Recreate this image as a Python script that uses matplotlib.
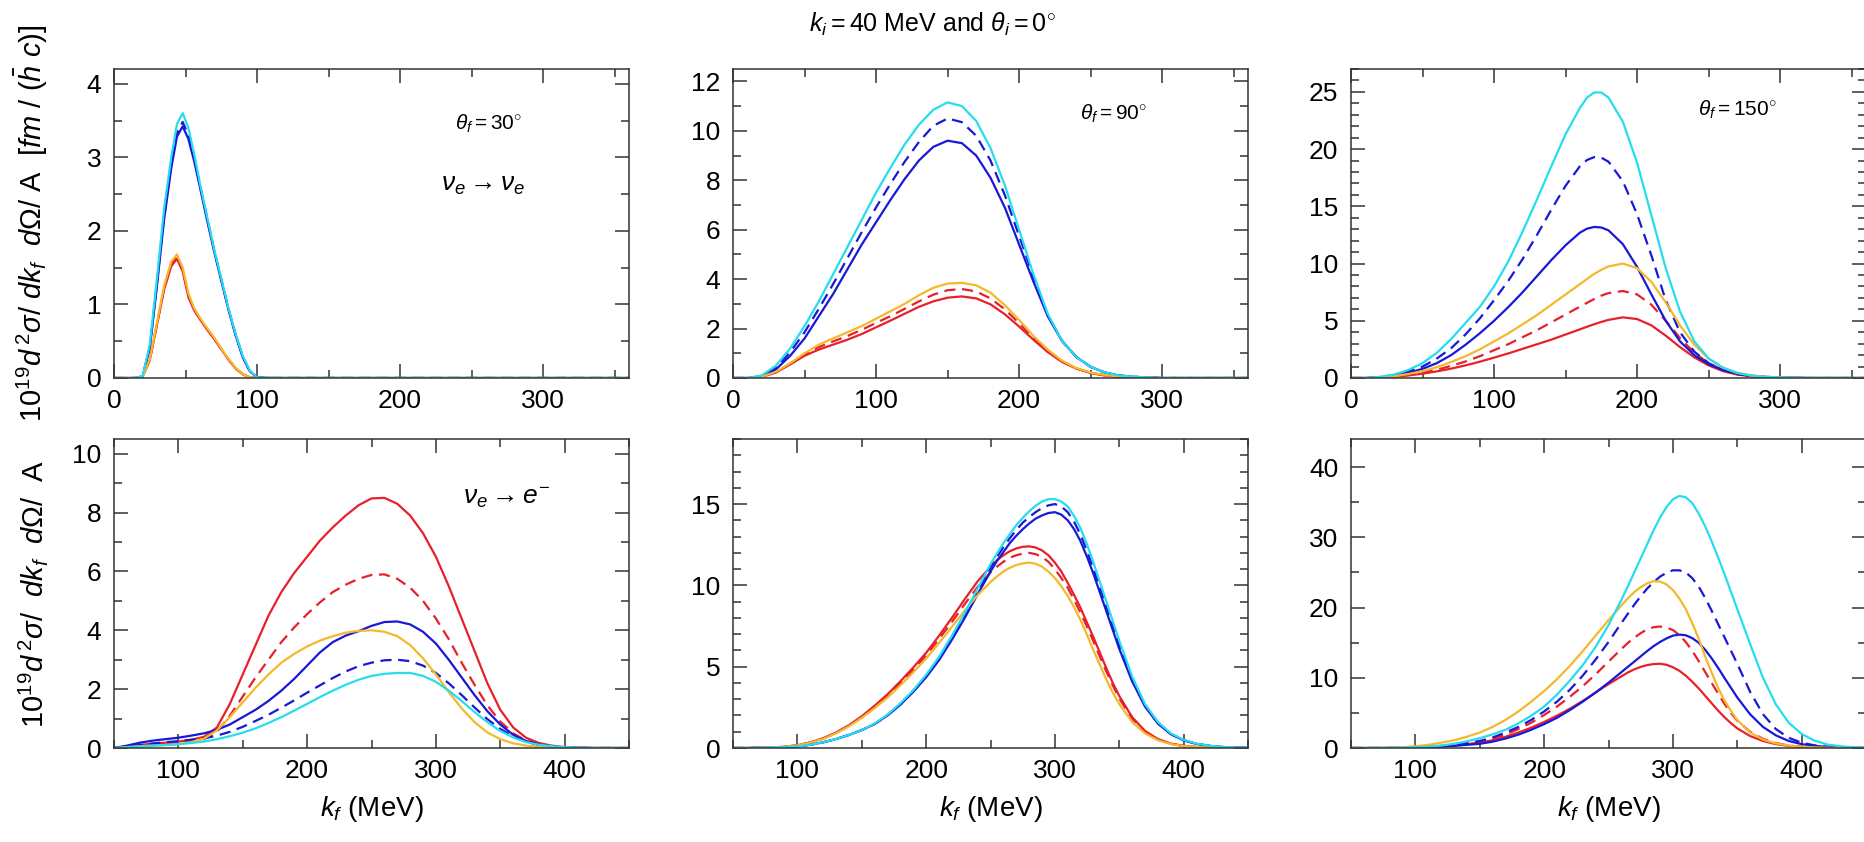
import matplotlib
matplotlib.use("Agg")
import matplotlib.pyplot as plt
from matplotlib.ticker import MultipleLocator

plt.rcParams['font.family'] = ['Liberation Sans', 'DejaVu Sans']
plt.rcParams['mathtext.fontset'] = 'custom'
plt.rcParams['mathtext.rm'] = 'Liberation Sans'
plt.rcParams['mathtext.it'] = 'Liberation Sans:italic'
plt.rcParams['mathtext.bf'] = 'Liberation Sans:bold'

CYAN = '#25DDEE'
BLUE = '#1818D8'
GOLD = '#F5B82A'
RED = '#E8202A'

# ---- top row: nu_e -> nu_e ----
tl_x = [0, 10, 15, 20, 25, 30, 35, 40, 44, 48, 52, 56, 60, 65, 70, 75, 80, 85, 90, 95, 100, 110, 360]
tl_cyan = [0, 0, 0, 0.03, 0.45, 1.35, 2.3, 3.0, 3.45, 3.6, 3.4, 3.05, 2.65, 2.2, 1.75, 1.35, 0.95, 0.6, 0.3, 0.1, 0.01, 0, 0]
tl_blue = [0, 0, 0, 0.02, 0.4, 1.25, 2.15, 2.85, 3.28, 3.42, 3.25, 2.95, 2.6, 2.15, 1.72, 1.32, 0.93, 0.58, 0.28, 0.09, 0.01, 0, 0]
tl_blue_d = [0, 0, 0, 0.02, 0.42, 1.28, 2.2, 2.9, 3.33, 3.48, 3.3, 3.0, 2.63, 2.18, 1.74, 1.34, 0.94, 0.59, 0.29, 0.09, 0.01, 0, 0]
tl_gold = [0, 0, 0, 0.02, 0.25, 0.75, 1.25, 1.58, 1.68, 1.5, 1.15, 0.95, 0.82, 0.68, 0.55, 0.4, 0.26, 0.14, 0.05, 0.01, 0, 0, 0]
tl_red = [0, 0, 0, 0.02, 0.24, 0.72, 1.2, 1.52, 1.62, 1.45, 1.1, 0.92, 0.8, 0.66, 0.53, 0.39, 0.25, 0.13, 0.05, 0.01, 0, 0, 0]
tl_red_d = [0, 0, 0, 0.02, 0.245, 0.73, 1.22, 1.55, 1.65, 1.47, 1.12, 0.93, 0.81, 0.67, 0.54, 0.395, 0.255, 0.135, 0.05, 0.01, 0, 0, 0]

tm_x = [0, 10, 20, 30, 40, 50, 60, 70, 80, 90, 100, 110, 120, 130, 140, 150, 160, 170, 180, 190, 200,
        210, 220, 230, 240, 250, 260, 270, 280, 290, 300, 360]
tm_cyan = [0, 0, 0.1, 0.5, 1.2, 2.1, 3.1, 4.2, 5.3, 6.4, 7.5, 8.5, 9.45, 10.25, 10.85, 11.15, 11.0, 10.4, 9.3, 7.8, 6.0,
           4.2, 2.6, 1.5, 0.85, 0.45, 0.22, 0.1, 0.05, 0.02, 0, 0]
tm_blue = [0, 0, 0.05, 0.35, 0.9, 1.6, 2.5, 3.4, 4.4, 5.4, 6.3, 7.2, 8.05, 8.8, 9.35, 9.6, 9.5, 9.0, 8.1, 6.9, 5.4,
           3.9, 2.5, 1.5, 0.85, 0.45, 0.22, 0.1, 0.05, 0.02, 0, 0]
tm_blue_d = [0, 0, 0.07, 0.4, 1.05, 1.85, 2.8, 3.8, 4.85, 5.9, 6.9, 7.85, 8.75, 9.55, 10.2, 10.5, 10.35, 9.8, 8.8, 7.4, 5.75,
             4.1, 2.55, 1.5, 0.85, 0.45, 0.22, 0.1, 0.05, 0.02, 0, 0]
tm_gold = [0, 0, 0.05, 0.25, 0.6, 1.0, 1.35, 1.6, 1.85, 2.1, 2.4, 2.7, 3.0, 3.35, 3.65, 3.82, 3.85, 3.75, 3.45, 2.95, 2.35,
           1.7, 1.15, 0.7, 0.4, 0.22, 0.12, 0.06, 0.03, 0.01, 0, 0]
tm_red = [0, 0, 0.04, 0.22, 0.55, 0.9, 1.15, 1.35, 1.55, 1.78, 2.05, 2.32, 2.6, 2.88, 3.1, 3.25, 3.3, 3.22, 2.98, 2.58, 2.08,
          1.55, 1.05, 0.65, 0.38, 0.2, 0.1, 0.05, 0.02, 0.01, 0, 0]
tm_red_d = [0, 0, 0.045, 0.24, 0.58, 0.95, 1.25, 1.48, 1.7, 1.95, 2.23, 2.5, 2.8, 3.1, 3.37, 3.55, 3.6, 3.5, 3.22, 2.78, 2.22,
            1.63, 1.1, 0.68, 0.39, 0.21, 0.11, 0.05, 0.02, 0.01, 0, 0]

tr_x = [0, 10, 20, 30, 40, 50, 60, 70, 80, 90, 100, 110, 120, 130, 140, 150, 160, 165, 170, 175, 180, 190, 200,
        210, 220, 230, 240, 250, 260, 270, 280, 290, 300, 310, 320, 360]
tr_cyan = [0, 0, 0.1, 0.3, 0.7, 1.3, 2.2, 3.4, 4.8, 6.2, 8.0, 10.2, 12.8, 15.6, 18.5, 21.3, 23.6, 24.5, 24.95, 24.95, 24.5, 22.4, 18.8,
           14.2, 9.6, 5.8, 3.2, 1.7, 0.9, 0.45, 0.2, 0.1, 0.05, 0.02, 0, 0]
tr_blue_d = [0, 0, 0.08, 0.25, 0.55, 1.0, 1.7, 2.6, 3.8, 5.2, 6.8, 8.5, 10.4, 12.5, 14.7, 16.8, 18.5, 19.05, 19.3, 19.25, 18.9, 17.2, 14.3,
             10.7, 6.8, 4.0, 2.3, 1.3, 0.7, 0.35, 0.17, 0.08, 0.04, 0.02, 0, 0]
tr_blue = [0, 0, 0.05, 0.2, 0.45, 0.8, 1.3, 2.0, 2.9, 3.9, 5.0, 6.2, 7.5, 8.9, 10.3, 11.6, 12.7, 13.05, 13.2, 13.15, 12.9, 11.7, 9.7,
           7.3, 5.0, 3.2, 2.0, 1.2, 0.7, 0.38, 0.2, 0.1, 0.05, 0.02, 0, 0]
tr_gold = [0, 0, 0.05, 0.15, 0.35, 0.6, 0.95, 1.4, 1.9, 2.5, 3.2, 3.9, 4.7, 5.5, 6.4, 7.3, 8.2, 8.65, 9.1, 9.45, 9.75, 10.0, 9.6,
           8.4, 6.6, 4.6, 2.9, 1.7, 0.9, 0.45, 0.22, 0.1, 0.05, 0.02, 0, 0]
tr_red_d = [0, 0, 0.04, 0.12, 0.27, 0.46, 0.72, 1.06, 1.44, 1.9, 2.43, 2.96, 3.57, 4.18, 4.86, 5.55, 6.23, 6.57, 6.9, 7.2, 7.42, 7.6, 7.3,
            6.4, 5.0, 3.5, 2.2, 1.3, 0.68, 0.34, 0.17, 0.08, 0.04, 0.02, 0, 0]
tr_red = [0, 0, 0.03, 0.1, 0.22, 0.38, 0.58, 0.82, 1.1, 1.42, 1.78, 2.15, 2.55, 2.95, 3.35, 3.8, 4.25, 4.48, 4.7, 4.9, 5.08, 5.3, 5.15,
          4.6, 3.7, 2.7, 1.8, 1.1, 0.6, 0.3, 0.15, 0.07, 0.03, 0.01, 0, 0]

# ---- bottom row: nu_e -> e- ----
bot_x = [50, 60, 70, 80, 90, 100, 110, 120, 130, 140, 150, 160, 170, 180, 190, 200, 210, 220, 230, 240, 250,
         260, 270, 280, 290, 300, 310, 320, 330, 340, 350, 360, 370, 380, 390, 400, 410, 420, 430, 440, 450]
bl_red = [0, 0.05, 0.1, 0.15, 0.18, 0.22, 0.28, 0.38, 0.7, 1.5, 2.5, 3.5, 4.5, 5.3, 5.95, 6.5, 7.05, 7.5, 7.9, 8.25, 8.48,
          8.5, 8.3, 7.9, 7.3, 6.5, 5.5, 4.4, 3.3, 2.2, 1.3, 0.7, 0.35, 0.17, 0.08, 0.03, 0.01, 0, 0, 0, 0]
bl_red_d = [0, 0.04, 0.08, 0.12, 0.15, 0.18, 0.23, 0.3, 0.55, 1.1, 1.75, 2.4, 3.0, 3.6, 4.1, 4.55, 4.95, 5.3, 5.55, 5.75, 5.88,
            5.9, 5.75, 5.45, 5.0, 4.4, 3.7, 2.9, 2.15, 1.45, 0.9, 0.5, 0.25, 0.12, 0.05, 0.02, 0.01, 0, 0, 0, 0]
bl_blue = [0, 0.08, 0.18, 0.25, 0.3, 0.35, 0.42, 0.5, 0.62, 0.8, 1.05, 1.3, 1.6, 1.95, 2.35, 2.8, 3.25, 3.6, 3.82, 3.97, 4.15,
           4.28, 4.3, 4.2, 3.95, 3.55, 3.0, 2.4, 1.8, 1.25, 0.8, 0.45, 0.24, 0.12, 0.05, 0.02, 0.01, 0, 0, 0, 0]
bl_blue_d = [0, 0.05, 0.1, 0.15, 0.2, 0.23, 0.28, 0.33, 0.42, 0.55, 0.72, 0.92, 1.13, 1.37, 1.62, 1.88, 2.13, 2.38, 2.6, 2.78, 2.9,
             2.98, 3.0, 2.95, 2.8, 2.55, 2.2, 1.8, 1.38, 0.98, 0.65, 0.4, 0.22, 0.1, 0.05, 0.02, 0.01, 0, 0, 0, 0]
bl_cyan = [0, 0.02, 0.05, 0.08, 0.1, 0.13, 0.17, 0.22, 0.3, 0.4, 0.52, 0.67, 0.85, 1.05, 1.27, 1.5, 1.73, 1.95, 2.15, 2.32, 2.45,
           2.52, 2.55, 2.55, 2.45, 2.25, 1.95, 1.6, 1.22, 0.88, 0.58, 0.36, 0.2, 0.11, 0.06, 0.03, 0.01, 0, 0, 0, 0]
bl_gold = [0, 0.03, 0.06, 0.08, 0.1, 0.13, 0.2, 0.32, 0.6, 1.05, 1.55, 2.05, 2.5, 2.9, 3.2, 3.45, 3.65, 3.8, 3.92, 3.98, 4.0,
           3.95, 3.8, 3.5, 3.05, 2.5, 1.9, 1.35, 0.88, 0.53, 0.3, 0.16, 0.08, 0.04, 0.02, 0.01, 0, 0, 0, 0, 0]

# finer steps around the peaks for the 90 and 150 degree panels
fine_x = [50, 60, 70, 80, 90, 100, 110, 120, 130, 140, 150, 160, 170, 180, 190, 200, 210, 220, 230, 240, 250,
          255, 260, 265, 270, 275, 280, 285, 290, 295, 300, 305, 310, 315, 320, 325, 330, 335, 340, 345,
          350, 360, 370, 380, 390, 400, 410, 420, 430, 440, 450]

bm_cyan = [0, 0, 0.01, 0.03, 0.06, 0.1, 0.2, 0.35, 0.55, 0.8, 1.1, 1.5, 2.05, 2.75, 3.55, 4.5, 5.6, 6.9, 8.3, 9.8, 11.3,
           11.95, 12.6, 13.15, 13.7, 14.15, 14.55, 14.9, 15.15, 15.3, 15.3, 15.15, 14.85, 14.25, 13.5, 12.5, 11.4, 10.2, 9.0, 7.8,
           6.6, 4.4, 2.7, 1.6, 0.9, 0.5, 0.27, 0.14, 0.07, 0.03, 0.01]
bm_blue_d = [0, 0, 0.01, 0.03, 0.06, 0.1, 0.2, 0.35, 0.55, 0.8, 1.1, 1.48, 2.02, 2.7, 3.5, 4.42, 5.5, 6.8, 8.2, 9.65, 11.1,
             11.75, 12.35, 12.9, 13.4, 13.85, 14.2, 14.5, 14.75, 14.92, 15.0, 14.85, 14.5, 13.9, 13.1, 12.1, 11.0, 9.85, 8.7, 7.5,
             6.3, 4.2, 2.6, 1.55, 0.87, 0.48, 0.26, 0.13, 0.06, 0.03, 0.01]
bm_blue = [0, 0, 0.01, 0.03, 0.06, 0.1, 0.2, 0.35, 0.55, 0.8, 1.1, 1.47, 2.0, 2.66, 3.45, 4.35, 5.4, 6.65, 8.0, 9.45, 10.85,
           11.5, 12.05, 12.6, 13.05, 13.45, 13.8, 14.1, 14.3, 14.45, 14.5, 14.35, 14.0, 13.45, 12.7, 11.75, 10.7, 9.55, 8.4, 7.25,
           6.1, 4.1, 2.55, 1.5, 0.85, 0.47, 0.25, 0.13, 0.06, 0.03, 0.01]
bm_red = [0, 0, 0.01, 0.03, 0.08, 0.17, 0.35, 0.6, 0.95, 1.4, 1.95, 2.6, 3.3, 4.1, 4.95, 5.85, 6.9, 8.0, 9.15, 10.25, 11.15,
          11.55, 11.85, 12.1, 12.27, 12.37, 12.4, 12.33, 12.15, 11.85, 11.4, 10.85, 10.15, 9.4, 8.6, 7.7, 6.8, 5.85, 4.9, 4.0,
          3.2, 1.9, 1.05, 0.55, 0.27, 0.13, 0.06, 0.03, 0.01, 0, 0]
bm_red_d = [0, 0, 0.01, 0.03, 0.08, 0.16, 0.34, 0.58, 0.92, 1.36, 1.9, 2.53, 3.22, 4.0, 4.82, 5.7, 6.7, 7.75, 8.85, 9.9, 10.8,
            11.15, 11.45, 11.7, 11.85, 11.95, 12.0, 11.92, 11.75, 11.45, 11.0, 10.45, 9.85, 9.1, 8.3, 7.45, 6.55, 5.6, 4.7, 3.85,
            3.05, 1.8, 1.0, 0.52, 0.26, 0.12, 0.06, 0.03, 0.01, 0, 0]
bm_gold = [0, 0, 0.01, 0.03, 0.08, 0.16, 0.33, 0.56, 0.9, 1.33, 1.85, 2.45, 3.1, 3.85, 4.65, 5.5, 6.45, 7.45, 8.45, 9.4, 10.2,
           10.55, 10.85, 11.08, 11.25, 11.35, 11.4, 11.33, 11.15, 10.85, 10.45, 9.95, 9.35, 8.65, 7.85, 6.95, 6.0, 5.1, 4.2, 3.4,
           2.7, 1.6, 0.9, 0.48, 0.24, 0.12, 0.06, 0.03, 0.01, 0, 0]

br_cyan = [0, 0, 0, 0.02, 0.05, 0.1, 0.2, 0.35, 0.6, 0.95, 1.4, 1.95, 2.6, 3.5, 4.6, 5.9, 7.6, 9.6, 11.8, 14.4, 17.5,
           19.3, 21.1, 23.0, 25.0, 27.0, 29.0, 31.0, 32.8, 34.3, 35.4, 35.9, 35.7, 34.9, 33.4, 31.6, 29.5, 27.2, 24.8, 22.3,
           19.8, 14.8, 10.0, 6.2, 3.6, 2.0, 1.05, 0.5, 0.25, 0.1, 0.05]
br_gold = [0, 0, 0.01, 0.05, 0.12, 0.25, 0.45, 0.75, 1.1, 1.6, 2.2, 3.0, 4.0, 5.2, 6.6, 8.1, 9.8, 11.7, 13.8, 16.0, 18.2,
           19.25, 20.3, 21.3, 22.2, 22.9, 23.45, 23.75, 23.7, 23.3, 22.5, 21.3, 19.8, 17.8, 15.6, 13.1, 10.8, 8.6, 6.8, 5.3,
           4.0, 2.2, 1.2, 0.65, 0.35, 0.18, 0.09, 0.04, 0.02, 0, 0]
br_blue_d = [0, 0, 0, 0.01, 0.04, 0.08, 0.15, 0.27, 0.45, 0.7, 1.0, 1.5, 2.2, 3.0, 4.0, 5.2, 6.6, 8.3, 10.3, 12.6, 15.1,
             16.45, 17.8, 19.1, 20.4, 21.6, 22.7, 23.6, 24.4, 24.95, 25.3, 25.3, 25.0, 24.2, 23.0, 21.4, 19.6, 17.7, 15.8, 13.9,
             12.0, 8.0, 4.8, 2.7, 1.45, 0.75, 0.38, 0.18, 0.08, 0.04, 0.02]
br_blue = [0, 0, 0, 0.01, 0.03, 0.06, 0.11, 0.2, 0.3, 0.45, 0.6, 0.9, 1.35, 1.9, 2.6, 3.4, 4.3, 5.4, 6.6, 7.9, 9.3,
           10.05, 10.8, 11.55, 12.3, 13.05, 13.8, 14.5, 15.1, 15.6, 16.0, 16.15, 16.05, 15.65, 15.0, 14.0, 12.8, 11.45, 10.0, 8.6,
           7.2, 4.8, 3.0, 1.8, 1.0, 0.55, 0.3, 0.15, 0.07, 0.03, 0.01]
br_red_d = [0, 0, 0, 0.01, 0.04, 0.09, 0.17, 0.3, 0.45, 0.65, 0.9, 1.3, 1.9, 2.7, 3.6, 4.7, 5.9, 7.3, 8.8, 10.5, 12.3,
            13.2, 14.1, 14.95, 15.7, 16.35, 16.9, 17.2, 17.3, 17.15, 16.8, 16.1, 15.1, 13.85, 12.4, 10.85, 9.3, 7.8, 6.3, 5.0,
            3.9, 2.3, 1.3, 0.7, 0.35, 0.17, 0.08, 0.04, 0.02, 0, 0]
br_red = [0, 0, 0, 0.01, 0.03, 0.07, 0.13, 0.22, 0.35, 0.52, 0.8, 1.1, 1.6, 2.2, 2.9, 3.7, 4.6, 5.6, 6.7, 7.9, 9.1,
          9.65, 10.2, 10.75, 11.2, 11.55, 11.8, 11.95, 12.0, 11.85, 11.5, 11.0, 10.3, 9.45, 8.5, 7.45, 6.4, 5.35, 4.4, 3.55,
          2.8, 1.7, 1.0, 0.55, 0.3, 0.15, 0.07, 0.03, 0.01, 0, 0]

panels = [
    # x, [red_d, red, blue_d, blue, gold, cyan], xlim, ylim, ymajor, yminor
    (tl_x, [tl_red_d, tl_red, tl_blue_d, tl_blue, tl_gold, tl_cyan], (0, 360), (0, 4.2), 1, 0.5),
    (tm_x, [tm_red_d, tm_red, tm_blue_d, tm_blue, tm_gold, tm_cyan], (0, 360), (0, 12.5), 2, 1),
    (tr_x, [tr_red_d, tr_red, tr_blue_d, tr_blue, tr_gold, tr_cyan], (0, 360), (0, 27), 5, 1),
    (bot_x, [bl_red_d, bl_red, bl_blue_d, bl_blue, bl_gold, bl_cyan], (50, 450), (0, 10.5), 2, 1),
    (fine_x, [bm_red_d, bm_red, bm_blue_d, bm_blue, bm_gold, bm_cyan], (50, 450), (0, 19), 5, 1),
    (fine_x, [br_red_d, br_red, br_blue_d, br_blue, br_gold, br_cyan], (50, 450), (0, 44), 10, 5),
]
styles = [(RED, '--'), (RED, '-'), (BLUE, '--'), (BLUE, '-'), (GOLD, '-'), (CYAN, '-')]

fig = plt.figure(figsize=(18.65, 8.42), dpi=100)
W, H = 1865, 842
lefts = [114, 733, 1351]
tops = [69, 439]
aw, ah = 515, 309

axes = []
for i, (x, ys, xl, yl, ymaj, ymin) in enumerate(panels):
    r, c = divmod(i, 3)
    ax = fig.add_axes([lefts[c] / W, 1 - (tops[r] + ah) / H, aw / W, ah / H])
    for y, (col, ls) in zip(ys, styles):
        ax.plot(x, y, color=col, ls=ls, lw=1.6, dashes=(5, 3) if ls == '--' else (None, None))
    ax.set_xlim(*xl)
    ax.set_ylim(*yl)
    ax.xaxis.set_major_locator(MultipleLocator(100))
    ax.xaxis.set_minor_locator(MultipleLocator(50))
    ax.yaxis.set_major_locator(MultipleLocator(ymaj))
    ax.yaxis.set_minor_locator(MultipleLocator(ymin))
    ax.tick_params(which='both', direction='in', top=True, right=True, width=1.1, labelsize=19, color='#333333')
    ax.tick_params(which='major', length=10)
    ax.tick_params(which='minor', length=6)
    ax.tick_params(axis='x', pad=8)
    ax.tick_params(axis='y', pad=9)
    for s in ax.spines.values():
        s.set_linewidth(1.1)
        s.set_color('#333333')
    if r == 1:
        ax.set_xlabel(r'$k_f$ (MeV)', fontsize=20, labelpad=8)
    axes.append(ax)

axes[0].set_ylabel(r'$10^{19}d^{\,2}\sigma/\ dk_f\ \ d\Omega/\ \mathrm{A}\ \ [fm\ /\ (\bar{h}\ c)]$', fontsize=21)
axes[3].set_ylabel(r'$10^{19}d^{\,2}\sigma/\ \ dk_f\ \ d\Omega/\ \ \mathrm{A}$', fontsize=21)
axes[0].yaxis.set_label_coords(-0.125, 0.5)
axes[3].yaxis.set_label_coords(-0.125, 0.5)

axes[0].text(262, 3.45, r'$\theta_f = 30^{\circ}$', fontsize=15, ha='center', va='center')
axes[0].text(258, 2.62, r'$\nu_e \rightarrow \nu_e$', fontsize=19, ha='center', va='center')
axes[1].text(266, 10.7, r'$\theta_f = 90^{\circ}$', fontsize=15, ha='center', va='center')
axes[2].text(270, 23.4, r'$\theta_f = 150^{\circ}$', fontsize=15, ha='center', va='center')
axes[3].text(355, 8.5, r'$\nu_e \rightarrow e^{-}$', fontsize=19, ha='center', va='center')

fig.text(932 / W, 1 - 24 / H, r'$k_i = 40$ MeV and $\theta_i = 0^{\circ}$', fontsize=18, ha='center', va='center')

fig.savefig('out.png', dpi=100)
